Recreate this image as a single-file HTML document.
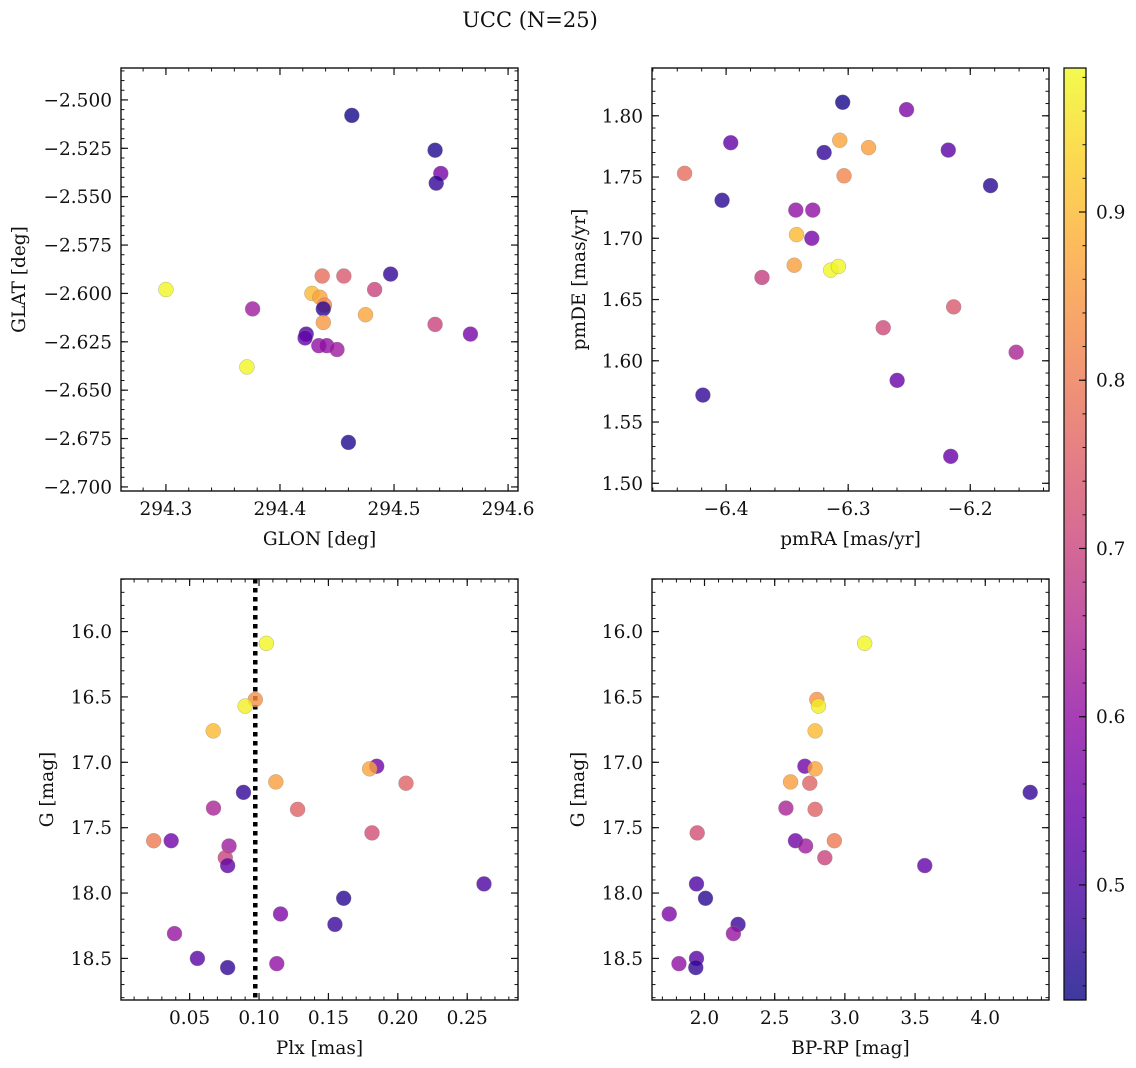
<!DOCTYPE html>
<html><head><meta charset="utf-8">
<style>
html,body{margin:0;padding:0;background:#fff;}
svg{display:block;font-family:"DejaVu Serif","Liberation Serif",serif;}
</style></head>
<body>
<svg id="chart" width="1136" height="1068" viewBox="0 0 1136 1068" xmlns="http://www.w3.org/2000/svg">
<text x="530" y="27" font-size="21" text-anchor="middle" fill="#111">UCC (N=25)</text>
</svg>
<script>
// ---- data: top-left panel (GLON/GLAT) ----
const tlGlon = [294.463,294.536,294.541,294.537,294.497,294.437,294.456,294.300,294.483,294.428,294.435,294.439,294.438,294.376,294.475,294.438,294.536,294.567,294.423,294.422,294.434,294.441,294.450,294.371,294.460];
const tlGlat = [-2.508,-2.526,-2.538,-2.543,-2.590,-2.591,-2.591,-2.598,-2.598,-2.600,-2.602,-2.606,-2.608,-2.608,-2.611,-2.615,-2.616,-2.621,-2.621,-2.623,-2.627,-2.627,-2.629,-2.638,-2.677];
const tlProb = [0.44,0.45,0.56,0.47,0.47,0.78,0.74,0.98,0.70,0.90,0.87,0.82,0.46,0.62,0.87,0.85,0.70,0.56,0.50,0.53,0.60,0.60,0.62,0.98,0.45];
// ---- data: top-right panel (pmRA/pmDE) ----
const trPmra = [-6.3045,-6.2522,-6.3962,-6.3069,-6.2833,-6.3197,-6.2180,-6.4340,-6.3034,-6.1834,-6.4033,-6.3429,-6.3290,-6.3423,-6.3298,-6.3442,-6.3143,-6.3080,-6.3706,-6.2136,-6.2713,-6.1624,-6.2599,-6.4190,-6.2160];
const trPmde = [1.811,1.805,1.778,1.780,1.774,1.770,1.772,1.753,1.751,1.743,1.731,1.723,1.723,1.703,1.700,1.678,1.674,1.677,1.668,1.644,1.627,1.607,1.584,1.572,1.522];
const trProb = [0.44,0.57,0.53,0.87,0.86,0.47,0.52,0.78,0.82,0.46,0.46,0.60,0.60,0.90,0.56,0.86,0.98,0.98,0.69,0.74,0.71,0.64,0.54,0.47,0.54];
// ---- data: bottom panels (Plx, BP-RP, G) ----
const btPlx  = [0.1053,0.0973,0.0900,0.0670,0.1848,0.1797,0.1121,0.2059,0.0888,0.0672,0.1278,0.1814,0.0241,0.0367,0.0784,0.0757,0.0774,0.2621,0.1610,0.1155,0.1547,0.0391,0.0556,0.0774,0.1128];
const btBprp = [3.141,2.800,2.812,2.788,2.715,2.788,2.613,2.750,4.320,2.580,2.788,1.948,2.925,2.648,2.720,2.857,3.569,1.943,2.007,1.749,2.239,2.206,1.943,1.938,1.818];
const btG    = [16.09,16.52,16.57,16.76,17.03,17.05,17.15,17.16,17.23,17.35,17.36,17.54,17.60,17.60,17.64,17.73,17.79,17.93,18.04,18.16,18.24,18.31,18.50,18.57,18.54];
const btProb = [0.98,0.84,0.97,0.90,0.55,0.87,0.86,0.76,0.47,0.64,0.76,0.72,0.80,0.55,0.62,0.70,0.53,0.50,0.46,0.57,0.48,0.61,0.52,0.47,0.60];
const plxLine = [0.0973];
const cbTicks = [0.5,0.6,0.7,0.8,0.9];
const cbMin = 0.4316, cbMax = 0.9856;

const NS = "http://www.w3.org/2000/svg";
const svg = document.getElementById('chart');
const FS = 18.5;
function mk(tag, attrs, parent){
  const e = document.createElementNS(NS, tag);
  for (const k in attrs) e.setAttribute(k, attrs[k]);
  (parent||svg).appendChild(e);
  return e;
}
const plasma = [[0,[13,8,135]],[0.1,[65,4,157]],[0.2,[106,0,168]],[0.3,[143,13,164]],[0.4,[177,42,144]],[0.5,[204,71,120]],[0.6,[225,100,98]],[0.7,[242,132,75]],[0.8,[252,166,54]],[0.9,[252,206,37]],[1,[240,249,33]]];
const ALPHA = 0.8;
function cmap(t){
  t=Math.max(0,Math.min(1,t));
  for(let i=1;i<plasma.length;i++){
    if(t<=plasma[i][0]){
      const a=plasma[i-1],b=plasma[i],f=(t-a[0])/(b[0]-a[0]);
      return 'rgb('+[0,1,2].map(j=>Math.round(a[1][j]+f*(b[1][j]-a[1][j]))).join(',')+')';
    }
  }
  return 'rgb(240,249,33)';
}
function pcol(p){return cmap((p-cbMin)/(cbMax-cbMin));}

function panel(o){
  const g = mk('g',{});
  
  
  const {x0,x1,y0,y1} = o.box;
  const sx = v => x0 + (v-o.xd[0])/(o.xd[1]-o.xd[0])*(x1-x0);
  const sy = o.yinv ? (v => y0 + (v-o.yd[0])/(o.yd[1]-o.yd[0])*(y1-y0))
                    : (v => y1 - (v-o.yd[0])/(o.yd[1]-o.yd[0])*(y1-y0));
  const eps=1e-9;
  const minor = mk('g',{stroke:'#111','stroke-width':1},g);
  
  
  const xlo=Math.min(...o.xd), xhi=Math.max(...o.xd), ylo=Math.min(...o.yd), yhi=Math.max(...o.yd);
  for(let v=Math.ceil(xlo/o.xmin-eps)*o.xmin; v<=xhi+eps; v+=o.xmin){
    const x=sx(v); mk('line',{x1:x,x2:x,y1:y1,y2:y1-3.5},minor); mk('line',{x1:x,x2:x,y1:y0,y2:y0+3.5},minor);
  }
  for(let v=Math.ceil(ylo/o.ymin-eps)*o.ymin; v<=yhi+eps; v+=o.ymin){
    const y=sy(v); mk('line',{x1:x0,x2:x0+3.5,y1:y,y2:y},minor); mk('line',{x1:x1,x2:x1-3.5,y1:y,y2:y},minor);
  }
  const maj = mk('g',{stroke:'#111','stroke-width':1.2},g);
  o.xt.forEach(v=>{
    const x=sx(v);
    mk('line',{x1:x,x2:x,y1:y1,y2:y1-7},maj); mk('line',{x1:x,x2:x,y1:y0,y2:y0+7},maj);
    const t=mk('text',{x:x,y:y1+24,'font-size':FS,'text-anchor':'middle',fill:'#111'},g);
    
    
    t.textContent=v.toFixed(o.xdec).replace('-','\u2212');
  });
  o.yt.forEach(v=>{
    const y=sy(v);
    mk('line',{x1:x0,x2:x0+7,y1:y,y2:y},maj); mk('line',{x1:x1,x2:x1-7,y1:y,y2:y},maj);
    const t=mk('text',{x:x0-9,y:y+6.5,'font-size':FS,'text-anchor':'end',fill:'#111'},g);
    
    
    t.textContent=v.toFixed(o.ydec).replace('-','\u2212');
  });
  if(o.vline){
    o.vline.forEach(v=>{
      const l=mk('line',{x1:sx(v),x2:sx(v),y1:y0,y2:y1,stroke:'#000','stroke-width':4.5,'stroke-dasharray':'4.5 4.5'},g);
      
      
    });
  }
  o.xs.forEach((xv,i)=>{
    const c=mk('circle',{cx:sx(xv),cy:sy(o.ys[i]),r:7.5,fill:pcol(o.cs[i]),'fill-opacity':ALPHA,stroke:'#888','stroke-width':0.5,'stroke-opacity':0.6},g);
    
    
  });
  const fr=mk('rect',{x:x0,y:y0,width:x1-x0,height:y1-y0,fill:'none',stroke:'#111','stroke-width':1.4},g);
  
  
  const xl=mk('text',{x:(x0+x1)/2,y:y1+54,'font-size':FS,'text-anchor':'middle',fill:'#111'},g);
  
  
  xl.textContent=o.xlabel;
  const yl=mk('text',{x:0,y:0,'font-size':FS,'text-anchor':'middle',fill:'#111',transform:'translate('+o.ylx+','+((y0+y1)/2)+') rotate(-90)'},g);
  
  
  yl.textContent=o.ylabel;
}

panel({name:'glon-glat-panel',box:{x0:121,x1:518,y0:68,y1:491},xd:[294.2606,294.6087],yd:[-2.7021,-2.4835],
  xt:[294.3,294.4,294.5,294.6],yt:[-2.700,-2.675,-2.650,-2.625,-2.600,-2.575,-2.550,-2.525,-2.500],xdec:1,ydec:3,xmin:0.02,ymin:0.005,
  xs:tlGlon,ys:tlGlat,cs:tlProb,xlabel:'GLON [deg]',ylabel:'GLAT [deg]',ylx:25});
panel({name:'pm-panel',box:{x0:652,x1:1049,y0:68,y1:491},xd:[-6.4607,-6.1355],yd:[1.4937,1.839],
  xt:[-6.4,-6.3,-6.2],yt:[1.50,1.55,1.60,1.65,1.70,1.75,1.80],xdec:1,ydec:2,xmin:0.02,ymin:0.01,
  xs:trPmra,ys:trPmde,cs:trProb,xlabel:'pmRA [mas/yr]',ylabel:'pmDE [mas/yr]',ylx:585});
panel({name:'plx-g-panel',box:{x0:121,x1:518,y0:579,y1:1000},xd:[0.00055,0.2866],yd:[15.598,18.818],yinv:true,
  xt:[0.05,0.10,0.15,0.20,0.25],yt:[16.0,16.5,17.0,17.5,18.0,18.5],xdec:2,ydec:1,xmin:0.01,ymin:0.1,
  xs:btPlx,ys:btG,cs:btProb,xlabel:'Plx [mas]',ylabel:'G [mag]',ylx:53,vline:plxLine});
panel({name:'cmd-panel',box:{x0:652,x1:1049,y0:579,y1:1000},xd:[1.626,4.454],yd:[15.598,18.818],yinv:true,
  xt:[2.0,2.5,3.0,3.5,4.0],yt:[16.0,16.5,17.0,17.5,18.0,18.5],xdec:1,ydec:1,xmin:0.1,ymin:0.1,
  xs:btBprp,ys:btG,cs:btProb,xlabel:'BP-RP [mag]',ylabel:'G [mag]',ylx:584});

(function(){
  const x0=1064,x1=1086,y0=68,y1=1000;
  const cb=mk('g',{});
  
  
  const defs=mk('defs',{},cb);
  const lg=mk('linearGradient',{id:'pl',x1:0,y1:1,x2:0,y2:0},defs);
  plasma.forEach(s=>mk('stop',{offset:s[0],'stop-color':cmap(s[0])},lg));
  mk('rect',{x:x0,y:y0,width:x1-x0,height:y1-y0,fill:'url(#pl)','fill-opacity':ALPHA},cb);
  mk('rect',{x:x0,y:y0,width:x1-x0,height:y1-y0,fill:'none',stroke:'#111','stroke-width':1.3},cb);
  const sy=v=>y1-(v-cbMin)/(cbMax-cbMin)*(y1-y0);
  for(let v=Math.ceil(cbMin/0.02)*0.02; v<=cbMax; v+=0.02){
    const y=sy(v); mk('line',{x1:x1,x2:x1-3.5,y1:y,y2:y,stroke:'#111','stroke-width':1},cb);
  }
  cbTicks.forEach(v=>{
    const y=sy(v);
    mk('line',{x1:x1,x2:x1-7,y1:y,y2:y,stroke:'#111','stroke-width':1.2},cb);
    const t=mk('text',{x:x1+10,y:y+6.5,'font-size':FS,fill:'#111'},cb);
    
    
    t.textContent=v.toFixed(1);
  });
})();
</script>
</body></html>
